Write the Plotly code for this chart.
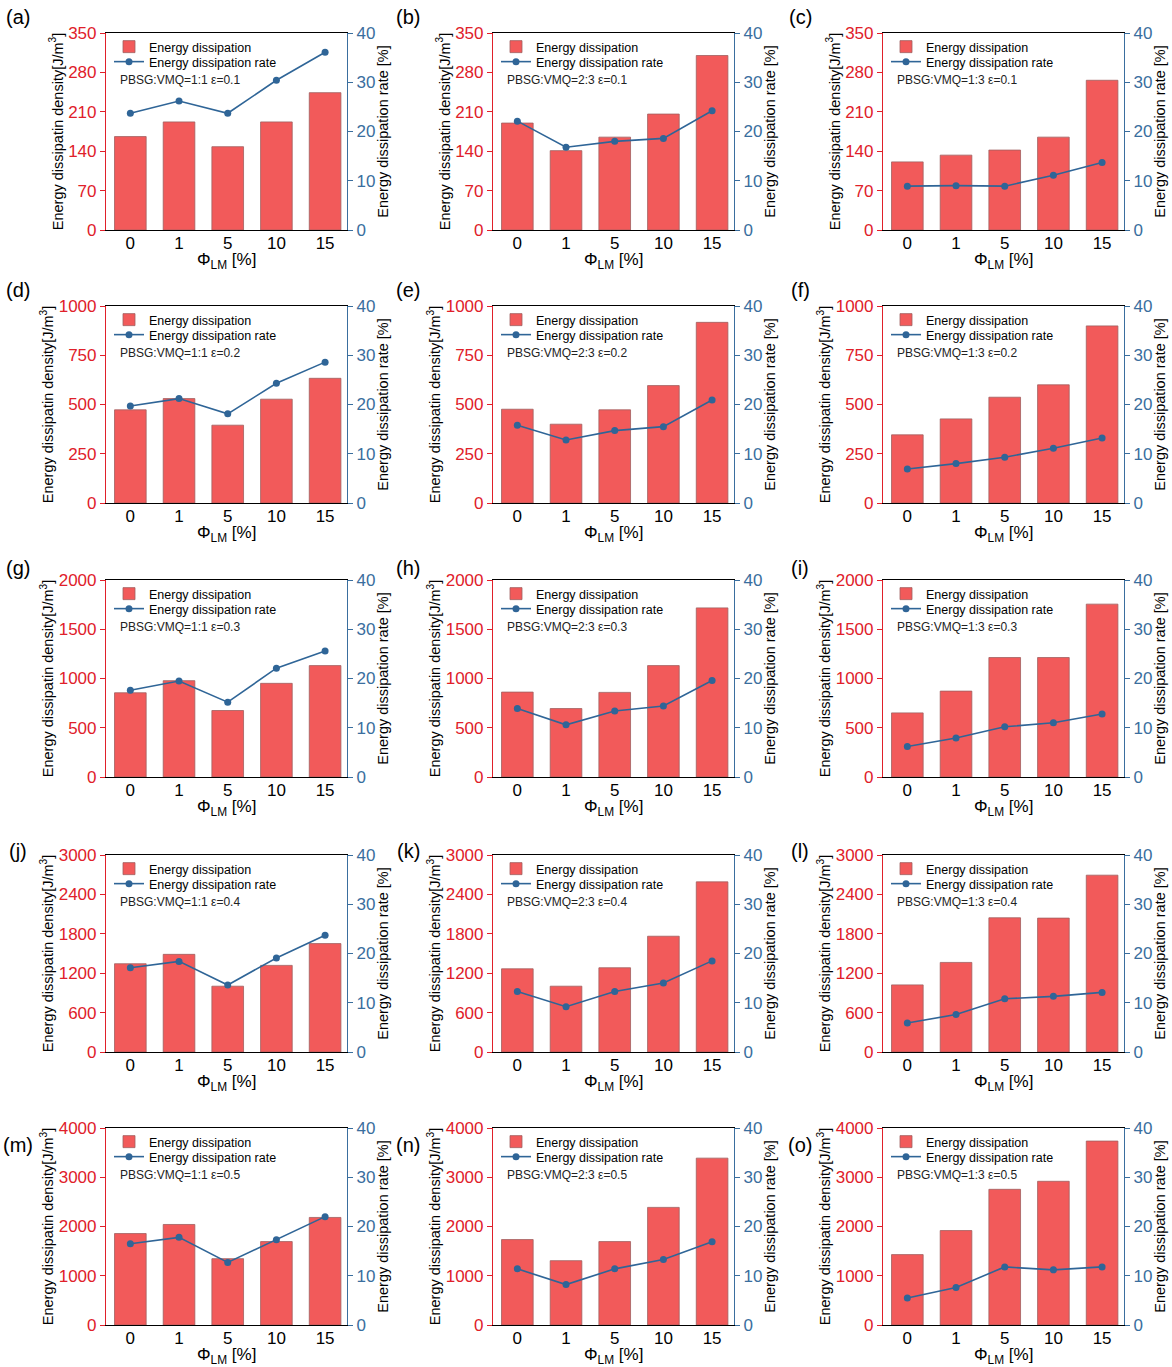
import plotly.graph_objects as go

categories = ["0", "1", "5", "10", "15"]
panel_labels = ["(a)", "(b)", "(c)", "(d)", "(e)", "(f)", "(g)", "(h)", "(i)",
                "(j)", "(k)", "(l)", "(m)", "(n)", "(o)"]
ratios = ["1:1", "2:3", "1:3"]
strains = ["0.1", "0.2", "0.3", "0.4", "0.5"]

# Energy dissipation density [J/m^3]
energy_a = [166, 192, 148, 192, 244]
energy_b = [190, 141, 165, 206, 310]
energy_c = [121, 133, 142, 165, 266]
energy_d = [473, 530, 395, 527, 633]
energy_e = [476, 400, 473, 596, 917]
energy_f = [346, 427, 537, 600, 899]
energy_g = [855, 978, 675, 951, 1131]
energy_h = [862, 695, 859, 1131, 1717]
energy_i = [651, 872, 1213, 1213, 1755]
energy_j = [1344, 1487, 1002, 1319, 1651]
energy_k = [1267, 1002, 1283, 1763, 2591]
energy_l = [1022, 1364, 2044, 2039, 2693]
energy_m = [1857, 2041, 1347, 1694, 2184]
energy_n = [1735, 1306, 1694, 2388, 3388]
energy_o = [1429, 1918, 2755, 2918, 3735]

# Energy dissipation rate [%]
rate_a = [23.7, 26.2, 23.7, 30.4, 36.1]
rate_b = [22.1, 16.8, 18.0, 18.6, 24.2]
rate_c = [8.9, 9.0, 8.9, 11.1, 13.7]
rate_d = [19.7, 21.2, 18.1, 24.3, 28.6]
rate_e = [15.8, 12.8, 14.7, 15.5, 20.9]
rate_f = [6.9, 8.0, 9.3, 11.1, 13.2]
rate_g = [17.6, 19.5, 15.2, 22.1, 25.6]
rate_h = [13.9, 10.6, 13.4, 14.4, 19.6]
rate_i = [6.2, 7.9, 10.2, 11.0, 12.8]
rate_j = [17.1, 18.4, 13.6, 19.1, 23.7]
rate_k = [12.3, 9.2, 12.3, 14.0, 18.5]
rate_l = [5.9, 7.6, 10.8, 11.3, 12.1]
rate_m = [16.5, 17.8, 12.7, 17.3, 22.0]
rate_n = [11.4, 8.2, 11.4, 13.3, 16.9]
rate_o = [5.5, 7.6, 11.8, 11.2, 11.8]

energies = [energy_a, energy_b, energy_c, energy_d, energy_e, energy_f, energy_g,
            energy_h, energy_i, energy_j, energy_k, energy_l, energy_m, energy_n, energy_o]
rates = [rate_a, rate_b, rate_c, rate_d, rate_e, rate_f, rate_g, rate_h, rate_i,
         rate_j, rate_k, rate_l, rate_m, rate_n, rate_o]

row_ymax = [350, 1000, 2000, 3000, 4000]
row_dtick = [70, 250, 500, 600, 1000]

W, H = 1172, 1367
col_left = [106, 493, 883]
plot_w = 241
row_top = [33, 306, 580, 855, 1128]
plot_h = 197
label_y = [17, 290, 568, 851, 1145]
label_x = [18, 408, 800]

RED = "#E0202A"
BAR = "#F25A5A"
BLUE = "#3A6E9E"
LINE = "#2F6597"
FONT = "Liberation Sans, Arial, sans-serif"

fig = go.Figure()
layout = dict(width=W, height=H, margin=dict(l=0, r=0, t=0, b=0),
              paper_bgcolor="white", plot_bgcolor="white",
              font=dict(family=FONT, color="black"), showlegend=True,
              annotations=[])

xpos = list(range(len(categories)))

for i in range(15):
    r, c = divmod(i, 3)
    xa = f"x{i + 1}" if i else "x"
    ya = f"y{2 * i + 1}" if i else "y"
    yb = f"y{2 * i + 2}"
    leg_bar = "legend" if i == 0 else f"legend{2 * i + 1}"
    leg_line = f"legend{2 * i + 2}"

    fig.add_trace(go.Bar(x=xpos, y=energies[i], width=0.65, name="Energy dissipation",
                         marker=dict(color=BAR, line=dict(color="#A06060", width=0.8)),
                         xaxis=xa, yaxis=ya, legend=leg_bar))
    fig.add_trace(go.Scatter(x=xpos, y=rates[i], mode="lines+markers",
                             name="Energy dissipation rate",
                             line=dict(color=LINE, width=1.6),
                             marker=dict(color=LINE, size=7),
                             xaxis=xa, yaxis=yb, legend=leg_line))

    x0 = col_left[c] / W
    x1 = (col_left[c] + plot_w) / W
    y1 = 1 - row_top[r] / H
    y0 = 1 - (row_top[r] + plot_h) / H

    xkey = "xaxis" if i == 0 else f"xaxis{i + 1}"
    ykey = "yaxis" if i == 0 else f"yaxis{2 * i + 1}"
    y2key = f"yaxis{2 * i + 2}"

    layout[xkey] = dict(domain=[x0, x1], anchor=ya, range=[-0.5, 4.45],
                        tickmode="array", tickvals=xpos, ticktext=categories,
                        showline=True, linecolor="black", linewidth=1.2, mirror=True,
                        ticks="", showgrid=False, zeroline=False,
                        ticklabelstandoff=-3,
                        tickfont=dict(size=17, color="black"),
                        automargin=False)
    layout[ykey] = dict(domain=[y0, y1], anchor=xa, range=[0, row_ymax[r]],
                        dtick=row_dtick[r], tick0=0, showline=True, linecolor=RED,
                        linewidth=1.2, ticks="outside", tickcolor=RED, ticklen=5,
                        tickfont=dict(size=17, color=RED), showgrid=False, zeroline=False,
                        title=dict(text="Energy dissipatin density[J/m<sup>3</sup>]",
                                   font=dict(size=14.5, color="black"), standoff=1),
                        automargin=False)
    layout[y2key] = dict(overlaying=ya, side="right", anchor=xa, range=[0, 40],
                         dtick=10, tick0=0, showline=True, linecolor=BLUE, linewidth=1.2,
                         ticks="outside", tickcolor=BLUE, ticklen=5,
                         tickfont=dict(size=17, color=BLUE), showgrid=False, zeroline=False,
                         title=dict(text="Energy dissipation rate [%]",
                                    font=dict(size=14.5, color="black"), standoff=3),
                         automargin=False)

    for leg, dy in ((leg_bar, 14), (leg_line, 29)):
        layout[leg] = dict(x=(col_left[c] + 3) / W, y=1 - (row_top[r] + dy) / H,
                           xanchor="left", yanchor="middle", bgcolor="rgba(0,0,0,0)",
                           font=dict(size=12.5, color="black"), itemwidth=30)

    layout["annotations"].append(dict(
        text=f"PBSG:VMQ={ratios[c]} ε={strains[r]}", xref="paper", yref="paper",
        x=(col_left[c] + 12) / W, y=1 - (row_top[r] + 47) / H,
        xanchor="left", yanchor="middle", showarrow=False,
        font=dict(size=12, color="#222222")))
    layout["annotations"].append(dict(
        text="Φ<sub>LM</sub> [%]", xref="paper", yref="paper",
        x=(col_left[c] + plot_w / 2) / W, y=1 - (row_top[r] + plot_h + 31) / H,
        xanchor="center", yanchor="middle", showarrow=False,
        font=dict(size=17, color="black")))
    layout["annotations"].append(dict(
        text=panel_labels[i], xref="paper", yref="paper",
        x=label_x[c] / W, y=1 - label_y[r] / H, xanchor="center", yanchor="middle",
        showarrow=False, font=dict(size=20, color="black")))

fig.update_layout(**layout)
fig.write_html("out.html")
